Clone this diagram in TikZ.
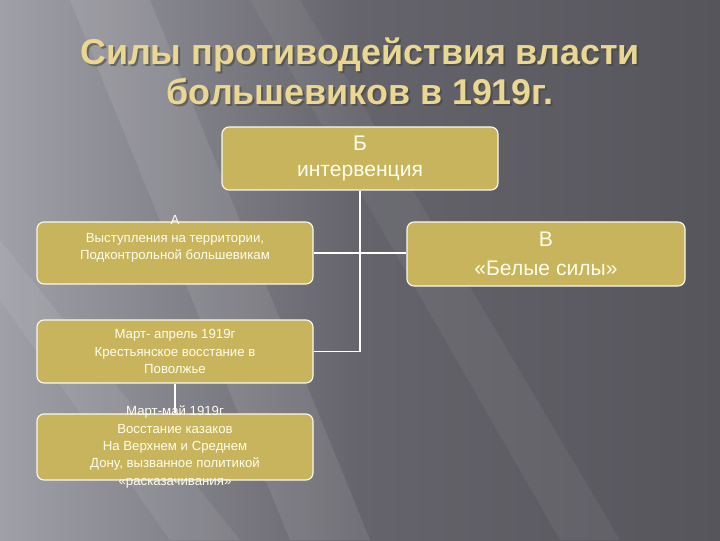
\documentclass[tikz,border=0pt]{standalone}
\usepackage{fontspec}
\setmainfont{Liberation Sans}
\usetikzlibrary{positioning,calc}
\definecolor{boxfill}{RGB}{200,180,92}
\definecolor{titlegold}{RGB}{234,216,146}
\definecolor{bgdark}{RGB}{86,85,92}
\definecolor{bglight}{RGB}{160,160,168}
\begin{document}
\begin{tikzpicture}[x=0.025cm,y=0.025cm,
	box/.style={draw=white!90!boxfill, line width=0.8pt, fill=boxfill, rounded corners=5pt, minimum width=276*0.025cm, minimum height=63*0.025cm, inner sep=0pt},
	boxtext/.style={text=white!92!yellow, align=center, font=\fontsize{9.4}{12.4}\selectfont},
	bigtext/.style={text=white!92!yellow, align=center},
	link/.style={draw=white, line width=1.4pt},
	title/.style={text=titlegold, font=\fontsize{25.5}{27}\bfseries\selectfont}]
	
	% background
	\useasboundingbox (0,0) rectangle (720,540);
	\shade[left color=bglight, right color=bgdark, middle color=bgdark!80!bglight] (0,0) rectangle (720,540);
	\fill[white, opacity=0.09] (70,540) -- (150,540) -- (370,0) -- (290,0) -- cycle;
	\fill[white, opacity=0.07] (0,300) -- (0,240) -- (170,0) -- (240,0) -- cycle;
	\fill[white, opacity=0.05] (250,540) -- (300,540) -- (620,0) -- (560,0) -- cycle;
	
	% title
	\node [title, text=black!75, opacity=0.55] at (362,483) {Силы противодействия власти};
	\node [title, text=black!75, opacity=0.55] at (362,446) {большевиков в 1919г.};
	\node [title] (t1) at (360,485) {Силы противодействия власти};
	\node [title] (t2) at (360,448) {большевиков в 1919г.};
	
	% boxes
	\node [box] (b) at (360,381.5) {};
	\node [bigtext, font=\fontsize{15}{18}\selectfont] (b-text) at (b) {Б\\интервенция};
	
	\node [box, minimum height=62*0.025cm] (a) at (175,287) {};
	\node [boxtext] (a-text) at (175,301) {А\\Выступления на территории,\\Подконтрольной большевикам};
	
	\node [box, minimum width=278*0.025cm, minimum height=64*0.025cm] (v) at (546,286) {};
	\node [bigtext, font=\fontsize{15}{20.5}\selectfont] (v-text) at (v) {В\\«Белые силы»};
	
	\node [box] (m) at (175,188.5) {};
	\node [boxtext] (m-text) at (m) {Март- апрель 1919г\\Крестьянское восстание в\\Поволжье};
	
	\node [box, minimum height=66*0.025cm] (d) at (175,93) {};
	\node [boxtext] (d-text) at (d) {Март-май 1919г\\Восстание казаков\\На Верхнем и Среднем\\Дону, вызванное политикой\\«расказачивания»};
	
	% connectors
	\draw [link] (b.south) |- (m.east);
	\draw [link] (a.east) -- (a.east -| v.west);
	\draw [link] (m.south) -- (d.north);
	
\end{tikzpicture}
\end{document}
